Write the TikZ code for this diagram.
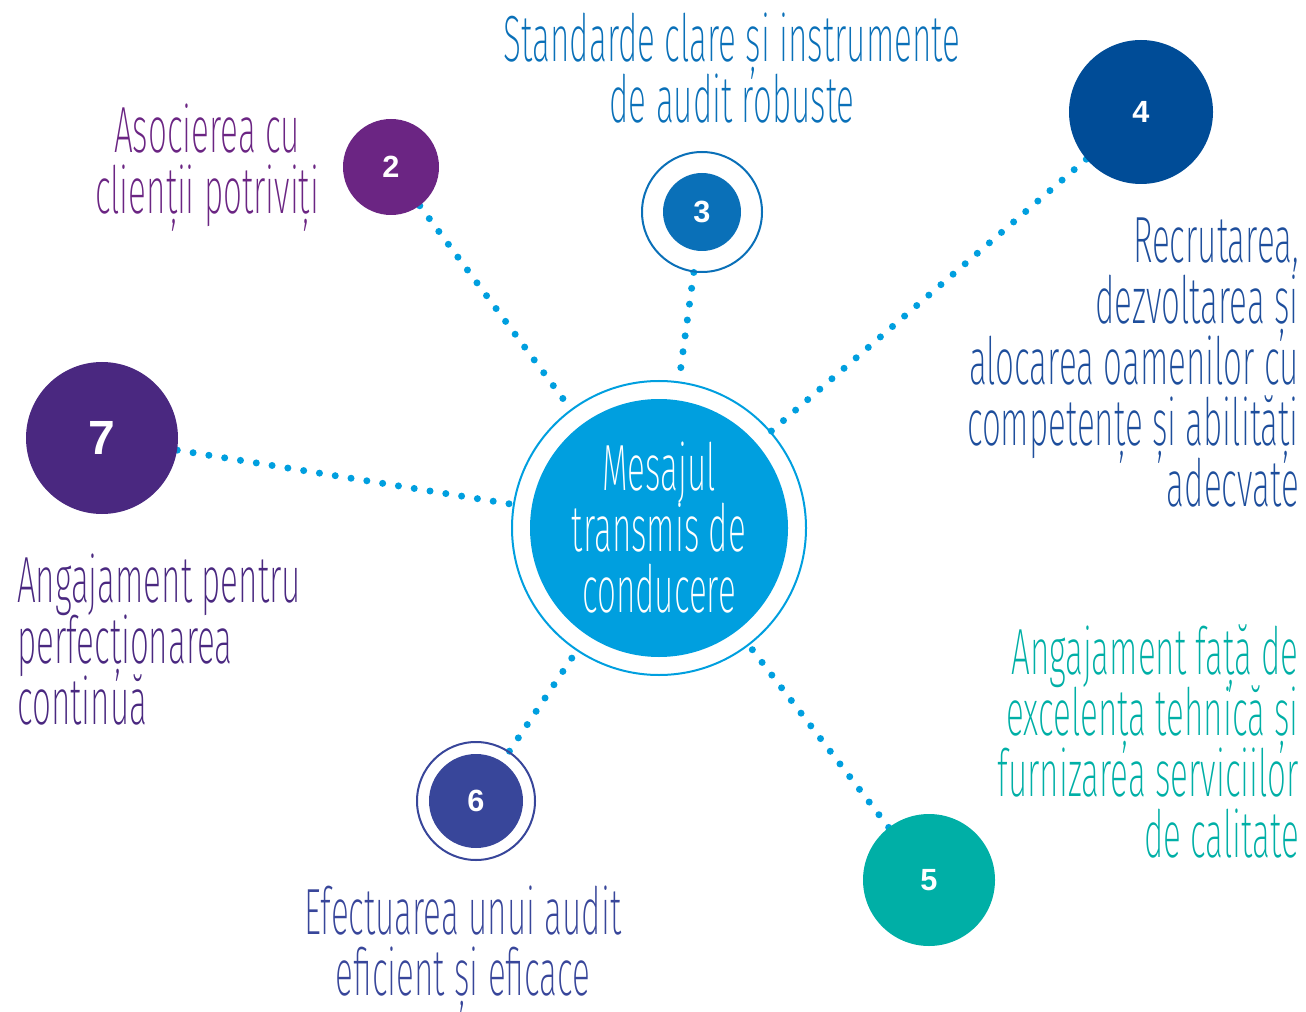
\documentclass[tikz,border=0pt]{standalone}
\usepackage{fontspec}
\usetikzlibrary{positioning,backgrounds}
\newfontfamily\thinfont[FakeStretch=0.51]{Fira Sans ExtraLight}
\newfontfamily\numfont{Liberation Sans}
\newcommand{\tightlines}{\lineskiplimit=-100pt\relax}

\definecolor{dotblue}{HTML}{009FDF}
\definecolor{purpletwo}{HTML}{6B2583}
\definecolor{bluethree}{HTML}{0A70B8}
\definecolor{navyfour}{HTML}{004C97}
\definecolor{tealfive}{HTML}{00AFA6}
\definecolor{indigosix}{HTML}{38469A}
\definecolor{purpleseven}{HTML}{4A2880}
\definecolor{textfour}{HTML}{1E4E9C}

\tikzset{
  num/.style={circle, inner sep=0pt, text=white,
    font=\numfont\bfseries\fontsize{23}{23}\selectfont},
  ring/.style={circle, draw, line width=1.5pt, inner sep=0pt},
  lbl/.style={inner sep=0pt,
    font=\thinfont\fontsize{49}{45.75}\selectfont\tightlines},
  link/.style={dotblue, line width=5.25pt, line cap=round,
    dash pattern=on 0pt off 12pt},
}

\begin{document}
\begin{tikzpicture}[x=0.75pt, y=-0.75pt]
    \useasboundingbox (0,0) rectangle (1306,1012);

    % centre
    \node[num, fill=dotblue, minimum size=193.5pt, lbl, align=center] (msg) at (659,528) {Mesajul\\transmis de\\conducere};
    \node[ring, draw=dotblue, minimum size=220.5pt] (msgring) at (msg) {};

    % numbered circles
    \node[num, fill=purpletwo, minimum size=72pt] (n2) at (391,167) {2};
    \node[num, fill=bluethree, minimum size=58.5pt] (n3) at (702,212) {3};
    \node[ring, draw=bluethree, minimum size=90pt] (n3ring) at (n3) {};
    \node[num, fill=navyfour, minimum size=108pt] (n4) at (1141,112) {4};
    \node[num, fill=tealfive, minimum size=99pt] (n5) at (929,880) {5};
    \node[num, fill=indigosix, minimum size=70.5pt] (n6) at (476,801) {6};
    \node[ring, draw=indigosix, minimum size=88.5pt] (n6ring) at (n6) {};
    \node[num, fill=purpleseven, minimum size=114pt,
      font=\numfont\bfseries\fontsize{36}{36}\selectfont] (n7) at (102,438) {7};

    % labels
    \node[lbl, text=bluethree, align=center, anchor=north] (l3) at (732,13) {Standarde clare și instrumente\\de audit robuste};
    \node[lbl, text=purpletwo, align=center, anchor=north] (l2) at (207,104) {Asocierea cu\\clienții potriviți};
    \node[lbl, text=textfour, align=right, anchor=north east] (l4) at (1299,218) {Recrutarea,\\dezvoltarea și\\alocarea oamenilor cu\\competențe și abilități\\adecvate};
    \node[lbl, text=purpleseven, align=left, anchor=north west] (l7) at (17,554) {Angajament pentru\\perfecționarea\\continuă};
    \node[lbl, text=tealfive, align=right, anchor=north east] (l5) at (1299,624) {Angajament față de\\excelența tehnică și\\furnizarea serviciilor\\de calitate};
    \node[lbl, text=indigosix, align=center, anchor=north] (l6) at (463,886) {Efectuarea unui audit\\eficient și eficace};

    % Connect the nodes
    \begin{scope}[on background layer]
      \draw[link] (n2) -- (msgring);
      \draw[link] (n3ring) -- (msgring);
      \draw[link] (n4) -- (msgring);
      \draw[link] (n5) -- (msgring);
      \draw[link] (n6ring) -- (msgring);
      \draw[link] (n7) -- (msgring);
    \end{scope}
\end{tikzpicture}
\end{document}
